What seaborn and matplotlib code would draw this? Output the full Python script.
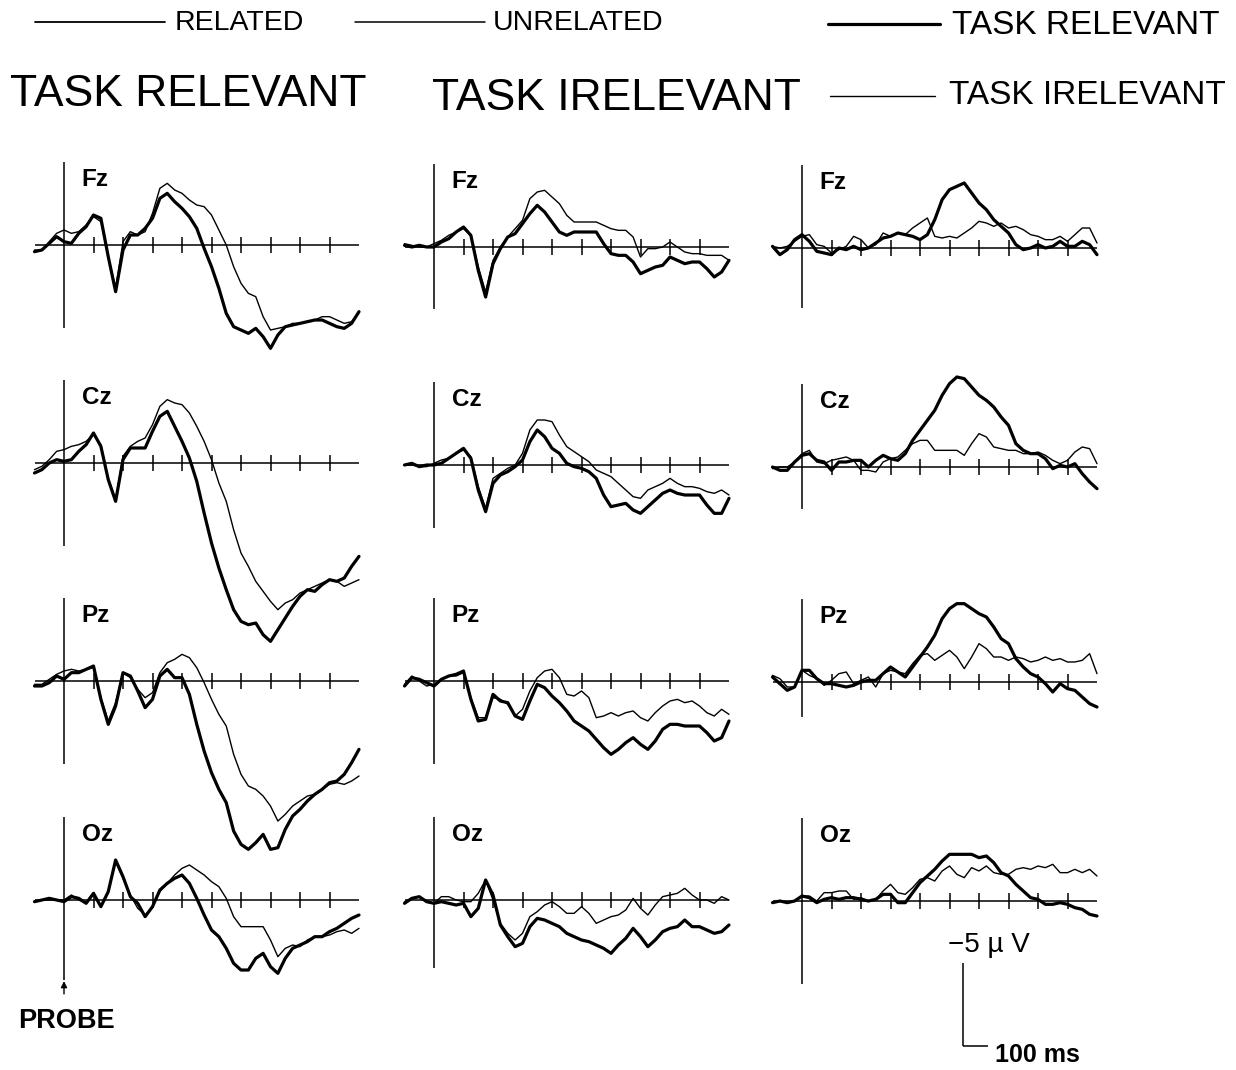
import matplotlib
matplotlib.use('Agg')
import matplotlib.pyplot as plt
from matplotlib.lines import Line2D
import seaborn as sns

# time axis of every trace (ms after probe onset)
TIME_MS = list(range(-100, 1001, 25))

# amplitudes in microvolt, negative is drawn upwards
# column 1: task relevant, related (thick) vs unrelated (thin)
FZ_TR_RELATED = [0.4, 0.3, -0.1, -0.5, -0.2, -0.1, -0.7, -1.1, -1.8, -1.6, 0.7, 2.8, 0.3, -0.6, -0.6, -1.0, -1.6, -2.8, -3.1, -2.6, -2.2, -1.7, -1.0, 0.2, 1.3, 2.6, 4.1, 4.9, 5.1, 5.3, 5.0, 5.5, 6.2, 5.4, 4.9, 4.8, 4.7, 4.6, 4.5, 4.5, 4.7, 4.9, 5.0, 4.7, 4.0]
FZ_TR_UNRELATED = [0.3, 0.3, -0.2, -0.7, -0.9, -0.7, -0.8, -1.2, -1.7, -1.4, 0.7, 2.6, -0.2, -0.8, -0.6, -0.8, -1.9, -3.4, -3.7, -3.3, -3.1, -2.7, -2.4, -2.3, -1.8, -0.9, 0.0, 1.3, 2.3, 2.9, 3.1, 4.3, 5.1, 5.0, 4.9, 4.7, 4.7, 4.6, 4.5, 4.3, 4.3, 4.5, 4.7, 4.6, 4.0]
CZ_TR_RELATED = [0.6, 0.4, 0.0, -0.2, -0.1, -0.2, -0.7, -1.1, -1.8, -1.0, 1.0, 2.3, -0.2, -0.9, -0.9, -0.9, -1.9, -2.8, -3.1, -2.2, -1.3, -0.3, 1.1, 3.0, 4.8, 6.3, 7.6, 8.8, 9.5, 9.7, 9.6, 10.3, 10.7, 10.0, 9.3, 8.6, 8.0, 7.6, 7.7, 7.3, 7.0, 7.1, 6.9, 6.2, 5.6]
CZ_TR_UNRELATED = [0.4, 0.2, -0.2, -0.7, -0.8, -1.0, -1.1, -1.3, -1.7, -1.1, 0.9, 2.2, -0.4, -1.0, -1.3, -1.5, -2.3, -3.4, -3.8, -3.6, -3.5, -3.0, -2.2, -1.3, -0.2, 1.2, 2.3, 4.0, 5.4, 6.2, 7.1, 7.7, 8.3, 8.8, 8.4, 8.2, 7.8, 7.6, 7.4, 7.2, 7.0, 7.1, 7.4, 7.2, 7.0]
PZ_TR_RELATED = [0.3, 0.3, 0.1, -0.3, -0.1, -0.5, -0.5, -0.7, -0.9, 1.1, 2.6, 1.5, -0.5, -0.3, 0.6, 1.6, 1.1, -0.3, -0.7, -0.2, -0.2, 0.8, 2.6, 4.2, 5.5, 6.5, 7.3, 9.0, 9.8, 10.1, 9.7, 9.2, 10.1, 10.0, 8.9, 8.1, 7.7, 7.2, 6.8, 6.5, 6.1, 6.0, 5.6, 4.9, 4.1]
PZ_TR_UNRELATED = [0.2, 0.2, -0.1, -0.4, -0.6, -0.7, -0.6, -0.7, -0.8, 1.0, 2.4, 1.3, -0.5, -0.2, 0.5, 1.0, 0.7, -0.5, -1.1, -1.3, -1.6, -1.4, -0.8, 0.1, 1.1, 2.0, 2.7, 4.4, 5.6, 6.3, 6.5, 6.9, 7.5, 8.4, 8.0, 7.5, 7.2, 6.9, 6.8, 6.5, 6.2, 6.1, 6.2, 6.0, 5.7]
OZ_TR_RELATED = [0.1, 0.0, -0.1, 0.0, 0.1, -0.2, -0.1, 0.2, -0.4, 0.4, -0.5, -2.4, -1.4, -0.2, 0.2, 1.0, 0.4, -0.6, -1.0, -1.3, -1.5, -1.0, -0.1, 0.9, 1.8, 2.2, 2.9, 3.8, 4.2, 4.2, 3.5, 3.2, 4.0, 4.4, 3.5, 2.9, 2.7, 2.5, 2.2, 2.2, 1.9, 1.7, 1.4, 1.1, 0.9]
OZ_TR_UNRELATED = [0.1, 0.0, 0.0, 0.0, 0.0, -0.3, 0.0, 0.2, -0.4, 0.4, -0.5, -2.3, -1.3, -0.3, 0.5, 0.9, 0.4, -0.5, -1.0, -1.5, -1.9, -2.1, -1.8, -1.5, -1.1, -0.8, -0.1, 1.0, 1.6, 1.6, 1.6, 1.6, 2.4, 3.4, 2.9, 2.7, 2.8, 2.4, 2.2, 2.2, 2.1, 1.9, 1.8, 2.0, 1.7]

# column 2: task irelevant, related (thick) vs unrelated (thin)
FZ_TI_RELATED = [-0.1, 0.0, -0.1, 0.0, 0.0, -0.3, -0.5, -0.9, -1.2, -0.7, 1.4, 3.0, 1.0, 0.1, -0.6, -0.8, -1.4, -2.0, -2.5, -2.1, -1.5, -0.9, -0.7, -0.9, -0.9, -0.9, -0.9, -0.2, 0.4, 0.5, 0.5, 0.9, 1.6, 1.4, 1.2, 1.1, 0.6, 0.8, 1.0, 0.9, 0.9, 1.3, 1.8, 1.5, 0.8]
FZ_TI_UNRELATED = [-0.2, -0.1, 0.0, 0.0, -0.2, -0.4, -0.7, -0.9, -1.1, -0.7, 1.2, 2.7, 0.8, 0.0, -0.6, -1.1, -1.6, -2.9, -3.3, -3.4, -3.0, -2.6, -1.9, -1.5, -1.5, -1.5, -1.5, -1.3, -1.1, -1.0, -1.0, -0.6, 0.6, 0.1, 0.1, 0.0, -0.3, 0.0, 0.3, 0.4, 0.4, 0.5, 0.5, 0.5, 0.8]
CZ_TI_RELATED = [0.0, -0.1, 0.1, 0.0, 0.0, -0.1, -0.4, -0.7, -1.0, -0.4, 1.5, 2.8, 1.1, 0.6, 0.4, 0.1, -0.3, -1.4, -2.1, -1.7, -1.0, -0.7, -0.1, 0.1, 0.2, 0.4, 0.8, 1.8, 2.5, 2.4, 2.3, 2.7, 2.9, 2.5, 2.1, 1.7, 1.5, 1.7, 1.8, 1.8, 1.8, 2.4, 2.9, 2.9, 2.0]
CZ_TI_UNRELATED = [0.0, 0.0, 0.1, 0.1, -0.1, -0.3, -0.4, -0.7, -0.9, -0.5, 1.3, 2.6, 0.8, 0.5, 0.2, 0.0, -0.7, -2.1, -2.7, -2.7, -2.6, -1.8, -1.1, -0.8, -0.5, -0.2, 0.3, 0.5, 0.7, 1.1, 1.5, 1.9, 2.0, 1.5, 1.3, 1.1, 0.8, 1.1, 1.3, 1.3, 1.4, 1.6, 1.7, 1.5, 1.8]
PZ_TI_RELATED = [0.3, -0.2, -0.1, 0.1, 0.3, -0.1, -0.3, -0.4, -0.6, 1.1, 2.4, 2.3, 0.8, 1.2, 1.3, 2.1, 2.3, 1.2, 0.2, 0.4, 0.9, 1.3, 1.8, 2.4, 2.7, 3.0, 3.5, 4.0, 4.4, 4.1, 3.7, 3.4, 3.8, 4.1, 3.6, 2.9, 2.6, 2.6, 2.7, 2.7, 2.7, 3.1, 3.6, 3.4, 2.4]
PZ_TI_UNRELATED = [0.2, -0.3, 0.0, 0.3, 0.2, -0.1, -0.3, -0.3, -0.5, 1.0, 2.2, 2.2, 1.0, 1.1, 1.4, 2.1, 1.7, 0.6, -0.2, -0.6, -0.7, -0.2, 0.8, 0.9, 0.6, 1.0, 2.2, 2.1, 1.9, 2.1, 1.9, 1.8, 2.2, 2.4, 1.9, 1.5, 1.2, 1.1, 1.3, 1.2, 1.5, 1.9, 2.1, 1.7, 2.0]
OZ_TI_RELATED = [0.2, -0.1, -0.2, 0.1, 0.2, 0.1, 0.2, 0.3, 0.2, 1.0, 0.5, -1.2, -0.3, 1.5, 2.2, 2.8, 2.6, 1.6, 1.1, 1.2, 1.4, 1.6, 2.0, 2.2, 2.4, 2.5, 2.7, 2.9, 3.2, 2.7, 2.3, 1.7, 2.2, 2.8, 2.4, 1.9, 1.7, 1.6, 1.2, 1.6, 1.6, 1.8, 2.0, 1.9, 1.5]
OZ_TI_UNRELATED = [0.1, -0.1, -0.2, 0.1, 0.2, -0.2, -0.2, 0.0, 0.1, 0.1, -0.4, -1.2, 0.0, 1.4, 2.0, 2.4, 2.0, 1.0, 0.7, 0.3, 0.1, 0.4, 0.8, 0.8, 0.4, 0.8, 1.4, 1.2, 1.0, 0.9, 0.6, -0.1, 0.5, 0.9, 0.3, -0.2, -0.3, -0.4, -0.7, -0.3, 0.0, 0.0, 0.2, -0.2, 0.0]

# column 3: task relevant (thick) vs task irelevant (thin)
FZ_RELEVANT = [-0.1, 0.4, 0.1, -0.5, -0.8, -0.4, 0.2, 0.3, 0.4, 0.0, 0.1, -0.1, 0.1, 0.0, -0.3, -0.6, -0.7, -0.9, -0.8, -0.7, -0.5, -0.8, -1.7, -2.9, -3.5, -3.7, -3.9, -3.3, -2.7, -2.3, -1.7, -1.3, -0.9, -0.2, 0.1, 0.0, -0.2, 0.0, -0.1, -0.4, -0.1, -0.1, -0.4, -0.2, 0.4]
FZ_IRELEVANT = [-0.1, 0.0, -0.1, -0.4, -0.7, -0.8, -0.2, -0.1, 0.3, 0.1, -0.1, -0.7, -0.5, 0.0, -0.2, -0.9, -0.7, -0.9, -0.8, -1.2, -1.5, -1.8, -0.7, -0.6, -0.7, -0.6, -0.9, -1.2, -1.6, -1.5, -1.3, -1.5, -1.2, -1.3, -1.1, -0.8, -0.7, -0.5, -0.5, -0.7, -0.4, -0.8, -1.2, -1.2, -0.3]
CZ_RELEVANT = [0.0, 0.2, 0.2, -0.3, -0.7, -0.8, -0.4, -0.3, 0.2, -0.3, -0.3, -0.4, -0.4, 0.0, -0.4, -0.7, -0.5, -0.4, -0.8, -1.6, -2.2, -2.8, -3.4, -4.3, -5.0, -5.4, -5.3, -4.8, -4.3, -4.0, -3.6, -3.0, -2.5, -1.4, -1.0, -0.8, -0.8, -0.5, 0.1, -0.1, 0.0, -0.2, 0.4, 0.9, 1.3]
CZ_IRELEVANT = [0.1, 0.0, 0.0, -0.3, -0.8, -1.0, -0.3, -0.2, -0.4, -0.5, -0.6, -0.4, 0.2, 0.2, 0.3, -0.3, -0.5, -0.6, -1.0, -1.4, -1.6, -1.6, -1.0, -1.0, -1.0, -1.0, -0.7, -1.4, -2.0, -1.8, -1.2, -1.1, -1.0, -1.0, -0.8, -0.8, -0.9, -0.7, -0.4, -0.2, -0.4, -0.9, -1.2, -1.1, -0.2]
PZ_RELEVANT = [-0.3, 0.1, 0.5, 0.3, -0.7, -0.7, -0.2, 0.1, 0.1, 0.2, 0.3, 0.2, 0.0, -0.1, -0.1, -0.5, -0.9, -0.6, -0.3, -0.9, -1.5, -2.1, -2.8, -3.8, -4.4, -4.7, -4.7, -4.4, -4.1, -3.9, -3.3, -2.6, -2.3, -1.4, -0.9, -0.5, -0.3, 0.1, 0.6, 0.1, 0.4, 0.5, 0.9, 1.3, 1.5]
PZ_IRELEVANT = [-0.4, -0.2, 0.3, 0.3, -0.7, -0.4, -0.2, 0.2, -0.1, -0.5, -0.6, 0.1, -0.1, -0.3, 0.3, -0.5, -0.7, -0.6, -0.5, -1.1, -1.6, -1.7, -1.3, -1.6, -1.9, -1.5, -0.8, -1.5, -2.3, -2.0, -1.5, -1.5, -1.3, -1.5, -1.4, -1.2, -1.3, -1.5, -1.3, -1.4, -1.2, -1.2, -1.3, -1.7, -0.5]
OZ_RELEVANT = [0.1, 0.0, 0.1, 0.0, -0.3, -0.2, 0.1, -0.1, -0.2, -0.1, -0.2, -0.2, -0.1, 0.0, -0.1, -0.4, -0.4, 0.1, 0.1, -0.5, -1.1, -1.5, -1.9, -2.4, -2.8, -2.8, -2.8, -2.8, -2.6, -2.7, -2.3, -1.7, -1.5, -1.0, -0.6, -0.2, -0.1, 0.2, 0.2, 0.1, 0.2, 0.4, 0.5, 0.8, 0.9]
OZ_IRELEVANT = [0.1, 0.0, 0.1, 0.0, -0.3, -0.3, 0.0, -0.5, -0.5, -0.6, -0.6, -0.1, -0.2, 0.0, -0.1, -0.6, -1.0, -0.5, -0.4, -0.8, -1.3, -1.4, -1.2, -1.8, -2.1, -1.6, -1.4, -2.0, -1.8, -2.1, -1.7, -1.6, -1.6, -1.9, -2.0, -1.9, -2.1, -2.0, -2.2, -1.7, -1.7, -1.9, -1.7, -1.9, -1.5]

ELECTRODES = ['Fz', 'Cz', 'Pz', 'Oz']
TICKS_MS = [100, 200, 300, 400, 500, 600, 700, 800, 900]

# (thick, thin) pair for every row / column
PANELS = [
    [(FZ_TR_RELATED, FZ_TR_UNRELATED), (FZ_TI_RELATED, FZ_TI_UNRELATED), (FZ_RELEVANT, FZ_IRELEVANT)],
    [(CZ_TR_RELATED, CZ_TR_UNRELATED), (CZ_TI_RELATED, CZ_TI_UNRELATED), (CZ_RELEVANT, CZ_IRELEVANT)],
    [(PZ_TR_RELATED, PZ_TR_UNRELATED), (PZ_TI_RELATED, PZ_TI_UNRELATED), (PZ_RELEVANT, PZ_IRELEVANT)],
    [(OZ_TR_RELATED, OZ_TR_UNRELATED), (OZ_TI_RELATED, OZ_TI_UNRELATED), (OZ_RELEVANT, OZ_IRELEVANT)],
]

# ---- layout (pixels of a 1236 x 1070 canvas) ----
W, H = 1236, 1070
PX_PER_MS = 0.295
PX_PER_UV = 16.67
XLIM = (-130, 1030)
YLIM = (11.5, -6.0)          # inverted: negative up
COL_ORIGIN_PX = [64, 434, 802]
BASELINE_PX = [[245, 247, 248], [463, 465, 467], [681, 681, 682], [900, 900, 901]]
AXIS_DOWN_UV = [[5.0, 3.7, 3.6], [5.0, 3.8, 2.5], [5.0, 5.0, 2.1], [4.8, 4.1, 5.0]]
THICK, THIN, AXLW = 2.3, 1.0, 1.1

sns.set_theme(style='white')
plt.rcParams['font.family'] = ['Liberation Sans', 'DejaVu Sans']
plt.rcParams['text.color'] = 'black'

fig = plt.figure(figsize=(W / 100, H / 100), dpi=100)
fig.patch.set_facecolor('white')


def panel_axes(x0, base):
    left = x0 + XLIM[0] * PX_PER_MS
    width = (XLIM[1] - XLIM[0]) * PX_PER_MS
    top = base + YLIM[1] * PX_PER_UV
    height = (YLIM[0] - YLIM[1]) * PX_PER_UV
    ax = fig.add_axes([left / W, 1 - (top + height) / H, width / W, height / H])
    ax.set_xlim(*XLIM)
    ax.set_ylim(*YLIM)
    ax.axis('off')
    ax.patch.set_alpha(0)
    return ax


axes = {}
for r, name in enumerate(ELECTRODES):
    for c in range(3):
        ax = panel_axes(COL_ORIGIN_PX[c], BASELINE_PX[r][c])
        axes[(r, c)] = ax
        # baseline, time ticks and voltage axis
        ax.hlines(0, -100, 1000, color='black', lw=AXLW)
        ax.vlines(TICKS_MS, -0.45, 0.5, color='black', lw=AXLW)
        ax.vlines(0, -5.0, AXIS_DOWN_UV[r][c], color='black', lw=AXLW)
        thick, thin = PANELS[r][c]
        sns.lineplot(x=TIME_MS, y=thin, ax=ax, color='black', lw=THIN,
                     estimator=None, errorbar=None, clip_on=False)
        sns.lineplot(x=TIME_MS, y=thick, ax=ax, color='black', lw=THICK,
                     estimator=None, errorbar=None, clip_on=False)
        ax.text(60, -3.9, name, ha='left', va='center', fontsize=17.5,
                fontweight='bold', color='black')

# probe arrow under the first Oz trace
axes[(3, 0)].annotate('', xy=(0, 4.7), xytext=(0, 5.8),
                      arrowprops=dict(arrowstyle='-|>', color='black', lw=1.0,
                                      mutation_scale=9), annotation_clip=False)

# calibration bar (-5 uV / 100 ms) drawn in the last panel's scale
cal = axes[(3, 2)]
cal.vlines(546, 3.7, 8.7, color='black', lw=AXLW, clip_on=False)
cal.hlines(8.7, 546, 630, color='black', lw=AXLW, clip_on=False)

# overlay in pixel coordinates for headings and legend keys
ov = fig.add_axes([0, 0, 1, 1])
ov.set_xlim(0, W)
ov.set_ylim(H, 0)
ov.axis('off')
ov.patch.set_alpha(0)

ov.add_line(Line2D([35, 165], [22, 22], color='black', lw=1.3))
ov.text(175, 23, 'RELATED', fontsize=20.5, va='center', ha='left')
ov.add_line(Line2D([355, 485], [22, 22], color='black', lw=1.1))
ov.text(493, 23, 'UNRELATED', fontsize=20.5, va='center', ha='left')
ov.add_line(Line2D([828, 940], [24, 24], color='black', lw=THICK))
ov.text(952, 25, 'TASK RELEVANT', fontsize=24, va='center', ha='left')
ov.add_line(Line2D([830, 935], [96, 96], color='black', lw=THIN))
ov.text(949, 96, 'TASK IRELEVANT', fontsize=24, va='center', ha='left')

ov.text(10, 95, 'TASK RELEVANT', fontsize=32, va='center', ha='left')
ov.text(432, 98, 'TASK IRELEVANT', fontsize=32, va='center', ha='left')

ov.text(18, 1021, 'PROBE', fontsize=19.5, fontweight='bold', va='center', ha='left')
ov.text(948, 945, '\u22125 \u00b5 V', fontsize=20, va='center', ha='left')
ov.text(995, 1055, '100 ms', fontsize=18, fontweight='bold', va='center', ha='left')

fig.savefig('out.png', dpi=100, facecolor='white')
plt.close(fig)
